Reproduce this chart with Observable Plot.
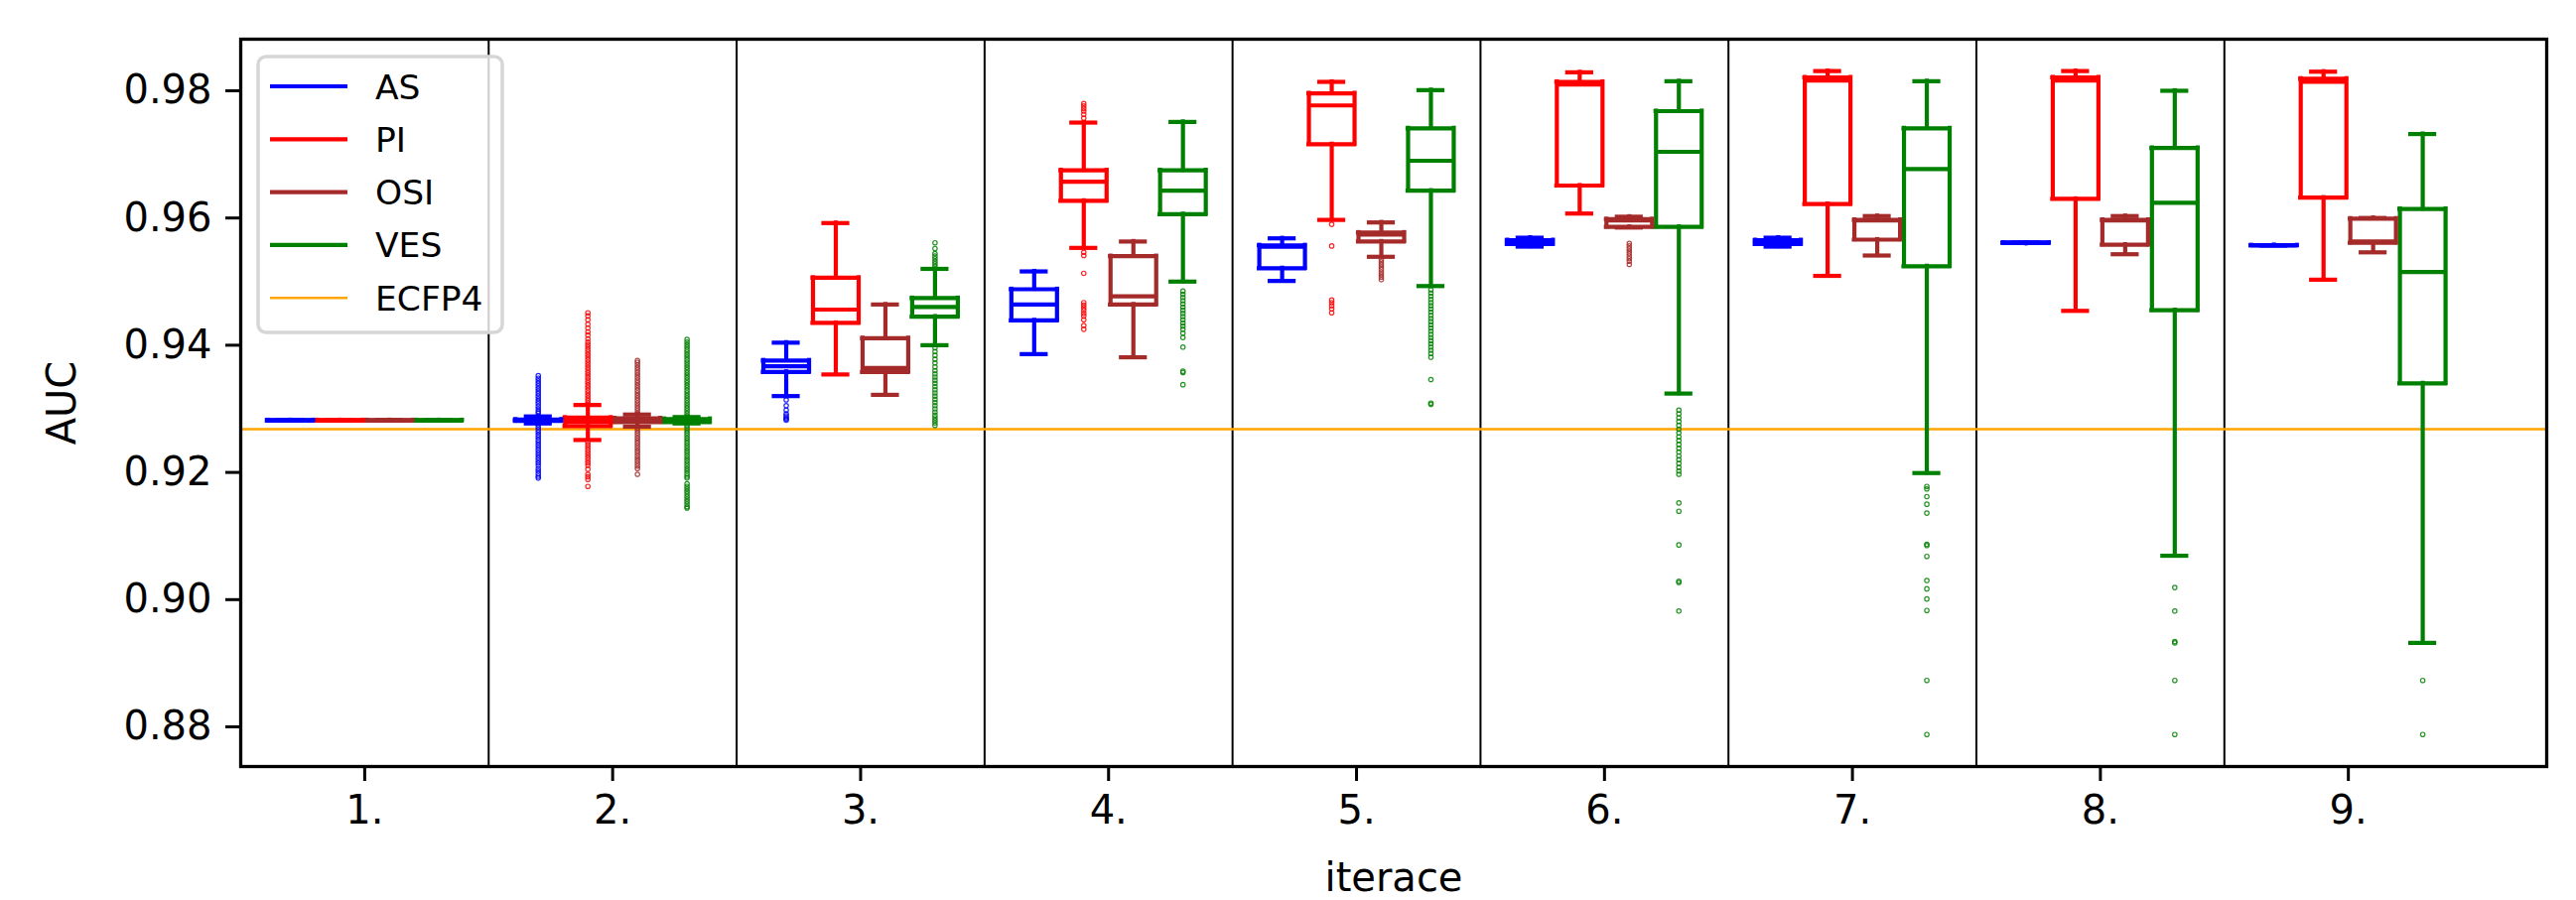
<!DOCTYPE html>
<html>
<head>
<meta charset="utf-8">
<script src="https://cdn.jsdelivr.net/npm/d3@7"></script>
<script src="https://cdn.jsdelivr.net/npm/@observablehq/plot@0.6"></script>
<style>
  html, body { margin: 0; padding: 0; background: #fff; }
  svg { display: block; }
</style>
</head>
<body>
<div id="chart"></div>
<script>
// ---------------- data ----------------
const iterations = ["1.", "2.", "3.", "4.", "5.", "6.", "7.", "8.", "9."];
const seriesNames = ["AS", "PI", "OSI", "VES"];
const seriesColors = ["#0000ff", "#ff0000", "#a52a2a", "#008000"];
const ecfp4Name = "ECFP4";
const ecfp4Color = "#ffa500";
const ecfp4Value = 0.9268;
const yTicks = [0.88, 0.90, 0.92, 0.94, 0.96, 0.98];
const xLabel = "iterace";
const yLabel = "AUC";

// AS
const asLow  = [0.9282, 0.9277, 0.9320, 0.9386, 0.9501, 0.9555, 0.9555, 0.9561, 0.9557];
const asQ1   = [0.9282, 0.9281, 0.9358, 0.9439, 0.9521, 0.9559, 0.9559, 0.9561, 0.9557];
const asMed  = [0.9282, 0.9282, 0.9367, 0.9464, 0.9555, 0.9562, 0.9562, 0.9561, 0.9557];
const asQ3   = [0.9282, 0.9283, 0.9376, 0.9488, 0.9557, 0.9565, 0.9565, 0.9561, 0.9557];
const asHigh = [0.9282, 0.9288, 0.9404, 0.9516, 0.9568, 0.9569, 0.9569, 0.9561, 0.9557];
const asFliers = [
  [],
  [0.9293, 0.9296, 0.9300, 0.9304, 0.9308, 0.9312, 0.9316, 0.9320, 0.9324, 0.9328, 0.9332, 0.9336, 0.9340, 0.9344, 0.9348, 0.9352,
   0.9275, 0.9271, 0.9267, 0.9263, 0.9259, 0.9255, 0.9251, 0.9247, 0.9243, 0.9239, 0.9235, 0.9231, 0.9227, 0.9223, 0.9219, 0.9215,
   0.9211, 0.9206, 0.9202, 0.9198, 0.9194, 0.9191],
  [0.9314, 0.9305, 0.9298, 0.9292, 0.9289, 0.9286, 0.9284, 0.9282],
  [], [], [], [],
  [0.9561],
  []
];

// PI
const piLow  = [0.9282, 0.9251, 0.9354, 0.9553, 0.9597, 0.9607, 0.9509, 0.9454, 0.9503];
const piQ1   = [0.9282, 0.9273, 0.9435, 0.9627, 0.9716, 0.9651, 0.9622, 0.9630, 0.9632];
const piMed  = [0.9282, 0.9280, 0.9456, 0.9657, 0.9777, 0.9810, 0.9816, 0.9816, 0.9814];
const piQ3   = [0.9282, 0.9286, 0.9506, 0.9675, 0.9796, 0.9814, 0.9821, 0.9821, 0.9819];
const piHigh = [0.9282, 0.9306, 0.9592, 0.9750, 0.9814, 0.9829, 0.9831, 0.9831, 0.9830];
const piFliers = [
  [],
  [0.9309, 0.9313, 0.9317, 0.9321, 0.9325, 0.9329, 0.9333, 0.9337, 0.9341, 0.9345, 0.9349, 0.9353, 0.9357, 0.9361, 0.9365, 0.9369,
   0.9373, 0.9377, 0.9381, 0.9385, 0.9389, 0.9393, 0.9397, 0.9401, 0.9405, 0.9410, 0.9416, 0.9421, 0.9427, 0.9433, 0.9440, 0.9446, 0.9451,
   0.9247, 0.9243, 0.9239, 0.9235, 0.9231, 0.9227, 0.9223, 0.9219, 0.9215, 0.9211, 0.9205, 0.9197, 0.9193, 0.9189, 0.9178],
  [],
  [0.9757, 0.9763, 0.9768, 0.9772, 0.9776, 0.9780,
   0.9546, 0.9541, 0.9513, 0.9467, 0.9463, 0.9459, 0.9455, 0.9450, 0.9446, 0.9440, 0.9431, 0.9425],
  [0.9590, 0.9556, 0.9471, 0.9467, 0.9462, 0.9457, 0.9451],
  [], [], [], []
];

// OSI
const osiLow  = [0.9282, 0.9272, 0.9322, 0.9381, 0.9539, 0.9585, 0.9541, 0.9543, 0.9546];
const osiQ1   = [0.9282, 0.9279, 0.9358, 0.9464, 0.9563, 0.9586, 0.9566, 0.9558, 0.9561];
const osiMed  = [0.9282, 0.9282, 0.9364, 0.9477, 0.9574, 0.9596, 0.9596, 0.9596, 0.9563];
const osiQ3   = [0.9282, 0.9285, 0.9411, 0.9540, 0.9577, 0.9598, 0.9597, 0.9597, 0.9599];
const osiHigh = [0.9282, 0.9291, 0.9464, 0.9563, 0.9593, 0.9602, 0.9603, 0.9603, 0.9600];
const osiFliers = [
  [],
  [0.9293, 0.9297, 0.9301, 0.9305, 0.9309, 0.9313, 0.9317, 0.9321, 0.9325, 0.9329, 0.9333, 0.9337, 0.9341, 0.9345, 0.9349, 0.9353,
   0.9357, 0.9361, 0.9365, 0.9369, 0.9373, 0.9376,
   0.9270, 0.9266, 0.9262, 0.9258, 0.9254, 0.9250, 0.9246, 0.9242, 0.9238, 0.9234, 0.9230, 0.9226, 0.9222, 0.9218, 0.9214, 0.9210,
   0.9206, 0.9197],
  [], [],
  [0.9535, 0.9531, 0.9527, 0.9523, 0.9519, 0.9515, 0.9511, 0.9507, 0.9503],
  [0.9560, 0.9556, 0.9552, 0.9548, 0.9544, 0.9540, 0.9536, 0.9532, 0.9527],
  [], [], []
];

// VES
const vesLow  = [0.9282, 0.9277, 0.9400, 0.9500, 0.9493, 0.9324, 0.9199, 0.9069, 0.8932];
const vesQ1   = [0.9282, 0.9279, 0.9445, 0.9606, 0.9643, 0.9586, 0.9524, 0.9455, 0.9340];
const vesMed  = [0.9282, 0.9282, 0.9460, 0.9643, 0.9690, 0.9704, 0.9677, 0.9624, 0.9515];
const vesQ3   = [0.9282, 0.9284, 0.9474, 0.9675, 0.9741, 0.9768, 0.9741, 0.9710, 0.9614];
const vesHigh = [0.9282, 0.9287, 0.9520, 0.9751, 0.9801, 0.9815, 0.9815, 0.9800, 0.9732];
const vesFliers = [
  [],
  [0.9289, 0.9293, 0.9297, 0.9301, 0.9305, 0.9309, 0.9313, 0.9317, 0.9321, 0.9325, 0.9329, 0.9333, 0.9337, 0.9341, 0.9345, 0.9349,
   0.9353, 0.9357, 0.9361, 0.9365, 0.9369, 0.9373, 0.9377, 0.9381, 0.9385, 0.9389, 0.9393, 0.9397, 0.9401, 0.9405, 0.9409,
   0.9274, 0.9270, 0.9266, 0.9262, 0.9258, 0.9254, 0.9250, 0.9246, 0.9242, 0.9238, 0.9234, 0.9230, 0.9226, 0.9222, 0.9218, 0.9214,
   0.9210, 0.9206, 0.9202, 0.9198, 0.9194, 0.9191, 0.9182, 0.9178, 0.9174, 0.9170, 0.9166, 0.9162, 0.9158, 0.9154, 0.9150, 0.9146, 0.9144],
  [0.9524, 0.9528, 0.9532, 0.9536, 0.9540, 0.9544, 0.9552, 0.9561,
   0.9396, 0.9390, 0.9384, 0.9378, 0.9372, 0.9366, 0.9360, 0.9355, 0.9350, 0.9345, 0.9340, 0.9335, 0.9330, 0.9325, 0.9320, 0.9315,
   0.9310, 0.9305, 0.9300, 0.9295, 0.9290, 0.9286, 0.9282, 0.9278, 0.9274],
  [0.9485, 0.9480, 0.9475, 0.9470, 0.9465, 0.9460, 0.9455, 0.9450, 0.9445, 0.9440, 0.9435, 0.9430, 0.9425, 0.9419, 0.9412,
   0.9397, 0.9359, 0.9357, 0.9338],
  [0.9487, 0.9482, 0.9477, 0.9472, 0.9467, 0.9462, 0.9457, 0.9452, 0.9447, 0.9442, 0.9437, 0.9432, 0.9427, 0.9422, 0.9417, 0.9412,
   0.9407, 0.9402, 0.9397, 0.9392, 0.9387, 0.9381, 0.9346, 0.9309, 0.9307],
  [0.9298, 0.9292, 0.9286, 0.9280, 0.9274, 0.9268, 0.9262, 0.9256, 0.9250, 0.9244, 0.9238, 0.9232, 0.9226, 0.9220, 0.9214, 0.9208,
   0.9202, 0.9197, 0.9152, 0.9139, 0.9086, 0.9029, 0.9027, 0.8982],
  [0.9178, 0.9174, 0.9162, 0.9150, 0.9136, 0.9087, 0.9085, 0.9068, 0.9030, 0.9017, 0.9001, 0.8983, 0.8873, 0.8788],
  [0.9019, 0.8982, 0.8934, 0.8932, 0.8873, 0.8788],
  [0.8873, 0.8788]
];

// ---------------- layout / style ----------------
const W = 2595, H = 907;
const ML = 242, MR = 30, MT = 39, MB = 135;
const xDomain = [0.5, 9.8];
const yDomain = [0.87376, 0.98811];
const seriesOffsets = [-0.3, -0.1, 0.1, 0.3];
const pxPerUnit = (W - ML - MR) / (xDomain[1] - xDomain[0]);
const boxHalf = 23 / pxPerUnit;
const capHalf = 12 / pxPerUnit;
const LW = 4.2;
const FONT = "DejaVu Sans, Liberation Sans, sans-serif";

// ---------------- tables built from the arrays ----------------
const statSets = [
  [asLow, asQ1, asMed, asQ3, asHigh, asFliers],
  [piLow, piQ1, piMed, piQ3, piHigh, piFliers],
  [osiLow, osiQ1, osiMed, osiQ3, osiHigh, osiFliers],
  [vesLow, vesQ1, vesMed, vesQ3, vesHigh, vesFliers]
];
const boxes = [];
const fliers = [];
seriesNames.forEach((name, s) => {
  const [lo, q1, med, q3, hi, fl] = statSets[s];
  iterations.forEach((_, i) => {
    const pos = i + 1 + seriesOffsets[s];
    boxes.push({series: name, pos, lo: lo[i], q1: q1[i], med: med[i], q3: q3[i], hi: hi[i]});
    fl[i].forEach(v => fliers.push({series: name, pos, value: v}));
  });
});
const separators = iterations.slice(1).map((_, i) => i + 1.5);
const xTickValues = iterations.map((_, i) => i + 1);

const common = {stroke: "series", strokeWidth: LW, strokeLinecap: "square"};

const chart = Plot.plot({
  width: W, height: H,
  marginLeft: ML, marginRight: MR, marginTop: MT, marginBottom: MB,
  x: {domain: xDomain, axis: null},
  y: {domain: yDomain, axis: null},
  color: {domain: seriesNames, range: seriesColors},
  style: {fontFamily: FONT, fontSize: "40px", background: "white", color: "black", overflow: "visible"},
  marks: [
    Plot.ruleX(separators, {stroke: "black", strokeWidth: 2}),
    Plot.ruleY([ecfp4Value], {stroke: ecfp4Color, strokeWidth: 2.5}),
    // whiskers
    Plot.ruleX(boxes, {x: "pos", y1: "lo", y2: "q1", ...common}),
    Plot.ruleX(boxes, {x: "pos", y1: "q3", y2: "hi", ...common}),
    // caps
    Plot.ruleY(boxes, {y: "lo", x1: d => d.pos - capHalf, x2: d => d.pos + capHalf, ...common}),
    Plot.ruleY(boxes, {y: "hi", x1: d => d.pos - capHalf, x2: d => d.pos + capHalf, ...common}),
    // box edges
    Plot.ruleY(boxes, {y: "q1", x1: d => d.pos - boxHalf, x2: d => d.pos + boxHalf, ...common}),
    Plot.ruleY(boxes, {y: "q3", x1: d => d.pos - boxHalf, x2: d => d.pos + boxHalf, ...common}),
    Plot.ruleX(boxes, {x: d => d.pos - boxHalf, y1: "q1", y2: "q3", ...common}),
    Plot.ruleX(boxes, {x: d => d.pos + boxHalf, y1: "q1", y2: "q3", ...common}),
    // medians
    Plot.ruleY(boxes, {y: "med", x1: d => d.pos - boxHalf, x2: d => d.pos + boxHalf, stroke: "series", strokeWidth: LW}),
    // fliers
    Plot.dot(fliers, {x: "pos", y: "value", r: 2.2, stroke: "series", fill: "none", strokeWidth: 1.2, strokeOpacity: 0.85}),
    // axes
    Plot.axisY({ticks: yTicks, tickFormat: d3.format(".2f"), tickSize: 15, tickPadding: 14, strokeWidth: 3, fontSize: 40, label: null}),
    Plot.axisX({ticks: xTickValues, tickFormat: d => iterations[d - 1], tickSize: 15, tickPadding: 14, strokeWidth: 3, fontSize: 40, label: null}),
    Plot.text([yLabel], {frameAnchor: "left", dx: -179, rotate: -90, textAnchor: "middle", lineAnchor: "middle", fontSize: 40, fill: "black"}),
    Plot.text([xLabel], {frameAnchor: "bottom", dy: 113, textAnchor: "middle", lineAnchor: "middle", fontSize: 40, fill: "black"}),
    Plot.frame({stroke: "black", strokeWidth: 3.3})
  ]
});

// ---------------- legend (inside the axes, upper left) ----------------
const svg = d3.select(chart);
const legendItems = seriesNames.map((n, i) => ({name: n, color: seriesColors[i], width: LW}))
  .concat([{name: ecfp4Name, color: ecfp4Color, width: 2.5}]);
const lg = svg.append("g").attr("transform", `translate(${ML + 18},${MT + 18})`);
lg.append("rect")
  .attr("x", 0).attr("y", 0).attr("width", 246).attr("height", 278)
  .attr("rx", 8).attr("ry", 8)
  .attr("fill", "white").attr("fill-opacity", 0.8)
  .attr("stroke", "#d6d6d6").attr("stroke-width", 3.5);
const legendFont = 34.5;
legendItems.forEach((it, i) => {
  const cy = 30 + i * 53.3;
  lg.append("line")
    .attr("x1", 12).attr("x2", 90).attr("y1", cy).attr("y2", cy)
    .attr("stroke", it.color).attr("stroke-width", it.width);
  lg.append("text")
    .attr("x", 118).attr("y", cy + 0.365 * legendFont)
    .attr("text-anchor", "start")
    .attr("font-size", legendFont).attr("font-family", FONT).attr("fill", "black")
    .text(it.name);
});

document.getElementById("chart").appendChild(chart);
</script>
</body>
</html>
